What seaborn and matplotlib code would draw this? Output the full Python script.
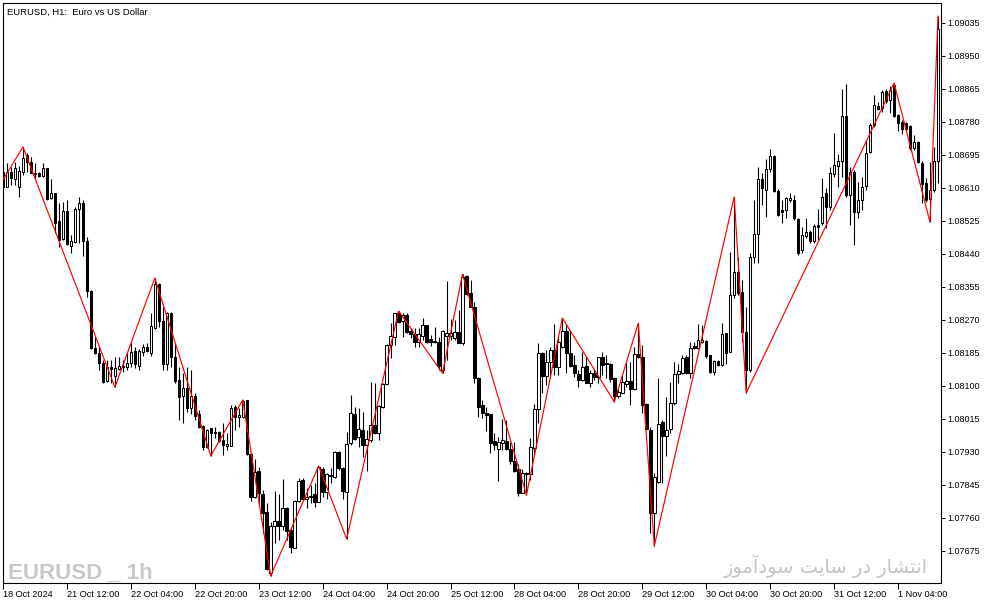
import numpy as np
import pandas as pd
import matplotlib
matplotlib.use("Agg")
import matplotlib.pyplot as plt
import seaborn as sns

# ---------------- data (EURUSD H1, 18 Oct 2024 20:00 -> 1 Nov 2024 14:00) ----------------
opens = [
    1.08651, 1.08613, 1.08651, 1.08633, 1.08613, 1.08651, 1.08695, 1.08677, 1.08649, 1.08649,
    1.08641, 1.08662, 1.08584, 1.08597, 1.08525, 1.08479, 1.08551, 1.08461, 1.08471, 1.08556,
    1.08571, 1.08473, 1.08345, 1.08198, 1.08185, 1.08159, 1.08113, 1.08149, 1.08126, 1.08144,
    1.08151, 1.08149, 1.08159, 1.08190, 1.08151, 1.08188, 1.08200, 1.08185, 1.08249, 1.08363,
    1.08267, 1.08157, 1.08288, 1.08175, 1.08115, 1.08074, 1.08095, 1.08043, 1.08074, 1.08028,
    1.07997, 1.07943, 1.07992, 1.07981, 1.07981, 1.07961, 1.07945, 1.07945, 1.08046, 1.08020,
    1.08020, 1.08064, 1.07925, 1.07814, 1.07881, 1.07822, 1.07775, 1.07618, 1.07739, 1.07752,
    1.07739, 1.07786, 1.07729, 1.07683, 1.07804, 1.07858, 1.07809, 1.07814, 1.07822, 1.07801,
    1.07886, 1.07827, 1.07868, 1.07866, 1.07930, 1.07889, 1.07827, 1.07953, 1.08028, 1.07969,
    1.07987, 1.07948, 1.07961, 1.07999, 1.07979, 1.08046, 1.08105, 1.08206, 1.08226, 1.08288,
    1.08267, 1.08283, 1.08242, 1.08234, 1.08213, 1.08229, 1.08257, 1.08221, 1.08216, 1.08213,
    1.08141, 1.08229, 1.08229, 1.08224, 1.08239, 1.08211, 1.08383, 1.08340, 1.08304, 1.08121,
    1.08051, 1.08030, 1.08028, 1.07958, 1.07938, 1.07953, 1.07958, 1.07938, 1.07907, 1.07886,
    1.07824, 1.07873, 1.07873, 1.07940, 1.08041, 1.08185, 1.08126, 1.08162, 1.08193, 1.08149,
    1.08200, 1.08242, 1.08185, 1.08154, 1.08131, 1.08115, 1.08151, 1.08108, 1.08133, 1.08123,
    1.08175, 1.08159, 1.08157, 1.08121, 1.08074, 1.08082, 1.08105, 1.08113, 1.08092, 1.08182,
    1.08175, 1.08054, 1.07987, 1.07773, 1.07853, 1.08007, 1.07971, 1.07989, 1.08056, 1.08131,
    1.08133, 1.08175, 1.08133, 1.08203, 1.08198, 1.08213, 1.08216, 1.08180, 1.08136, 1.08164,
    1.08154, 1.08237, 1.08188, 1.08334, 1.08394, 1.08342, 1.08239, 1.08141, 1.08432, 1.08492,
    1.08633, 1.08605, 1.08659, 1.08692, 1.08602, 1.08553, 1.08553, 1.08579, 1.08579, 1.08530,
    1.08450, 1.08486, 1.08497, 1.08473, 1.08515, 1.08520, 1.08597, 1.08561, 1.08646, 1.08667,
    1.08680, 1.08795, 1.08592, 1.08651, 1.08548, 1.08579, 1.08615, 1.08703, 1.08772, 1.08821,
    1.08816, 1.08860, 1.08837, 1.08875, 1.08798, 1.08780, 1.08777, 1.08770, 1.08713, 1.08728,
    1.08674, 1.08623, 1.08582, 1.08605, 1.08680,
]
highs = [
    1.08664, 1.08674, 1.08664, 1.08677, 1.08667, 1.08716, 1.08700, 1.08690, 1.08674, 1.08651,
    1.08674, 1.08662, 1.08633, 1.08597, 1.08571, 1.08574, 1.08579, 1.08489, 1.08561, 1.08587,
    1.08579, 1.08484, 1.08347, 1.08226, 1.08200, 1.08167, 1.08167, 1.08167, 1.08175, 1.08175,
    1.08167, 1.08185, 1.08211, 1.08200, 1.08195, 1.08208, 1.08211, 1.08288, 1.08378, 1.08365,
    1.08303, 1.08290, 1.08290, 1.08211, 1.08149, 1.08133, 1.08149, 1.08141, 1.08082, 1.08038,
    1.07999, 1.07989, 1.07992, 1.07994, 1.07984, 1.08005, 1.07979, 1.08051, 1.08051, 1.08043,
    1.08064, 1.08064, 1.07927, 1.07912, 1.07891, 1.07832, 1.07799, 1.07750, 1.07829, 1.07822,
    1.07860, 1.07788, 1.07734, 1.07806, 1.07863, 1.07863, 1.07837, 1.07845, 1.07850, 1.07894,
    1.07891, 1.07876, 1.07889, 1.07933, 1.07933, 1.07891, 1.07981, 1.08077, 1.08046, 1.08043,
    1.08033, 1.07987, 1.08110, 1.08108, 1.08051, 1.08108, 1.08208, 1.08262, 1.08288, 1.08293,
    1.08288, 1.08288, 1.08249, 1.08249, 1.08249, 1.08275, 1.08257, 1.08231, 1.08252, 1.08226,
    1.08244, 1.08370, 1.08273, 1.08270, 1.08296, 1.08388, 1.08386, 1.08373, 1.08316, 1.08123,
    1.08064, 1.08046, 1.08028, 1.07979, 1.07969, 1.08015, 1.08012, 1.07956, 1.07956, 1.07899,
    1.07886, 1.07878, 1.07966, 1.08054, 1.08211, 1.08188, 1.08193, 1.08200, 1.08260, 1.08224,
    1.08275, 1.08260, 1.08244, 1.08180, 1.08141, 1.08188, 1.08175, 1.08141, 1.08144, 1.08175,
    1.08188, 1.08180, 1.08159, 1.08123, 1.08092, 1.08128, 1.08159, 1.08162, 1.08200, 1.08262,
    1.08206, 1.08056, 1.07994, 1.07876, 1.08121, 1.08012, 1.08072, 1.08110, 1.08162, 1.08157,
    1.08180, 1.08180, 1.08213, 1.08213, 1.08260, 1.08257, 1.08218, 1.08180, 1.08167, 1.08167,
    1.08262, 1.08237, 1.08445, 1.08587, 1.08432, 1.08373, 1.08303, 1.08443, 1.08579, 1.08664,
    1.08649, 1.08685, 1.08710, 1.08695, 1.08607, 1.08579, 1.08587, 1.08597, 1.08592, 1.08533,
    1.08510, 1.08533, 1.08502, 1.08517, 1.08556, 1.08636, 1.08610, 1.08664, 1.08752, 1.08698,
    1.08865, 1.08878, 1.08664, 1.08656, 1.08625, 1.08638, 1.08734, 1.08777, 1.08850, 1.08831,
    1.08862, 1.08865, 1.08873, 1.08880, 1.08801, 1.08785, 1.08780, 1.08772, 1.08747, 1.08731,
    1.08680, 1.08636, 1.08677, 1.08716, 1.09053,
]
lows = [
    1.08610, 1.08613, 1.08618, 1.08618, 1.08587, 1.08643, 1.08651, 1.08649, 1.08636, 1.08638,
    1.08638, 1.08579, 1.08582, 1.08494, 1.08458, 1.08476, 1.08463, 1.08443, 1.08468, 1.08468,
    1.08435, 1.08329, 1.08195, 1.08182, 1.08141, 1.08108, 1.08110, 1.08108, 1.08097, 1.08141,
    1.08136, 1.08141, 1.08149, 1.08146, 1.08141, 1.08177, 1.08188, 1.08177, 1.08247, 1.08252,
    1.08141, 1.08141, 1.08149, 1.08108, 1.08012, 1.08005, 1.08033, 1.08028, 1.08012, 1.07992,
    1.07935, 1.07940, 1.07920, 1.07966, 1.07956, 1.07922, 1.07935, 1.07945, 1.07987, 1.07994,
    1.08018, 1.07922, 1.07804, 1.07811, 1.07793, 1.07721, 1.07626, 1.07611, 1.07696, 1.07703,
    1.07729, 1.07703, 1.07670, 1.07683, 1.07801, 1.07806, 1.07786, 1.07799, 1.07788, 1.07801,
    1.07814, 1.07809, 1.07850, 1.07863, 1.07884, 1.07809, 1.07706, 1.07948, 1.07961, 1.07943,
    1.07917, 1.07881, 1.07956, 1.07976, 1.07961, 1.08043, 1.08103, 1.08172, 1.08206, 1.08262,
    1.08226, 1.08237, 1.08224, 1.08200, 1.08200, 1.08218, 1.08211, 1.08203, 1.08211, 1.08141,
    1.08133, 1.08167, 1.08218, 1.08218, 1.08211, 1.08206, 1.08334, 1.08304, 1.08108, 1.08020,
    1.08018, 1.07984, 1.07927, 1.07935, 1.07855, 1.07935, 1.07935, 1.07899, 1.07878, 1.07817,
    1.07824, 1.07819, 1.07858, 1.07925, 1.08005, 1.08082, 1.08103, 1.08128, 1.08128, 1.08128,
    1.08198, 1.08133, 1.08149, 1.08123, 1.08097, 1.08113, 1.08108, 1.08097, 1.08115, 1.08108,
    1.08128, 1.08121, 1.08110, 1.08059, 1.08069, 1.08082, 1.08097, 1.08051, 1.08090, 1.08172,
    1.08030, 1.07987, 1.07721, 1.07688, 1.07850, 1.07850, 1.07920, 1.07979, 1.08051, 1.08108,
    1.08131, 1.08131, 1.08121, 1.08195, 1.08195, 1.08211, 1.08172, 1.08133, 1.08128, 1.08151,
    1.08151, 1.08157, 1.08188, 1.08327, 1.08334, 1.08213, 1.08082, 1.08136, 1.08417, 1.08417,
    1.08566, 1.08535, 1.08651, 1.08600, 1.08538, 1.08520, 1.08533, 1.08574, 1.08528, 1.08437,
    1.08443, 1.08481, 1.08468, 1.08468, 1.08476, 1.08515, 1.08507, 1.08553, 1.08638, 1.08613,
    1.08638, 1.08587, 1.08515, 1.08463, 1.08533, 1.08553, 1.08605, 1.08700, 1.08767, 1.08811,
    1.08806, 1.08829, 1.08803, 1.08793, 1.08757, 1.08749, 1.08757, 1.08708, 1.08708, 1.08674,
    1.08571, 1.08574, 1.08522, 1.08600, 1.08623,
]
closes = [
    1.08613, 1.08651, 1.08636, 1.08662, 1.08654, 1.08687, 1.08677, 1.08649, 1.08646, 1.08641,
    1.08662, 1.08582, 1.08597, 1.08520, 1.08476, 1.08551, 1.08466, 1.08473, 1.08556, 1.08571,
    1.08473, 1.08345, 1.08198, 1.08185, 1.08159, 1.08110, 1.08149, 1.08144, 1.08146, 1.08151,
    1.08149, 1.08159, 1.08188, 1.08157, 1.08190, 1.08200, 1.08190, 1.08254, 1.08363, 1.08267,
    1.08157, 1.08288, 1.08175, 1.08113, 1.08072, 1.08095, 1.08043, 1.08074, 1.08023, 1.07994,
    1.07943, 1.07987, 1.07979, 1.07979, 1.07958, 1.07948, 1.07951, 1.08043, 1.08020, 1.08025,
    1.08061, 1.07925, 1.07814, 1.07878, 1.07824, 1.07773, 1.07629, 1.07739, 1.07752, 1.07739,
    1.07786, 1.07726, 1.07685, 1.07804, 1.07855, 1.07809, 1.07814, 1.07817, 1.07801, 1.07891,
    1.07827, 1.07873, 1.07871, 1.07930, 1.07889, 1.07829, 1.07951, 1.08030, 1.07963, 1.07989,
    1.07948, 1.07963, 1.07999, 1.07979, 1.08048, 1.08105, 1.08206, 1.08229, 1.08288, 1.08265,
    1.08283, 1.08239, 1.08234, 1.08213, 1.08234, 1.08257, 1.08213, 1.08213, 1.08213, 1.08151,
    1.08242, 1.08237, 1.08237, 1.08239, 1.08211, 1.08381, 1.08337, 1.08304, 1.08121, 1.08046,
    1.08030, 1.08025, 1.07953, 1.07948, 1.07956, 1.07961, 1.07938, 1.07907, 1.07881, 1.07824,
    1.07876, 1.07876, 1.07943, 1.08041, 1.08185, 1.08126, 1.08162, 1.08193, 1.08149, 1.08213,
    1.08242, 1.08185, 1.08151, 1.08133, 1.08115, 1.08149, 1.08108, 1.08133, 1.08123, 1.08175,
    1.08154, 1.08157, 1.08118, 1.08074, 1.08084, 1.08110, 1.08113, 1.08092, 1.08182, 1.08175,
    1.08051, 1.07989, 1.07773, 1.07866, 1.08002, 1.07971, 1.07987, 1.08056, 1.08131, 1.08139,
    1.08172, 1.08133, 1.08198, 1.08198, 1.08218, 1.08218, 1.08177, 1.08136, 1.08164, 1.08154,
    1.08234, 1.08185, 1.08334, 1.08394, 1.08340, 1.08239, 1.08141, 1.08432, 1.08492, 1.08633,
    1.08610, 1.08659, 1.08692, 1.08602, 1.08540, 1.08548, 1.08584, 1.08584, 1.08533, 1.08443,
    1.08489, 1.08497, 1.08473, 1.08512, 1.08510, 1.08587, 1.08561, 1.08649, 1.08669, 1.08680,
    1.08795, 1.08592, 1.08651, 1.08548, 1.08579, 1.08613, 1.08700, 1.08772, 1.08824, 1.08813,
    1.08857, 1.08834, 1.08862, 1.08795, 1.08777, 1.08762, 1.08762, 1.08713, 1.08728, 1.08677,
    1.08620, 1.08579, 1.08605, 1.08680, 1.09020,
]

# ZigZag pivots (bar index, price)
zz_index = [0, 5, 28, 38, 52, 60, 67, 79, 86, 99, 110, 115, 131, 140, 153, 159, 163, 183, 186, 223, 232, 234]
zz_price = [1.08631, 1.08716, 1.08097, 1.08378, 1.07920, 1.08064, 1.07611, 1.07894, 1.07706, 1.08293,
            1.08133, 1.08388, 1.07819, 1.08275, 1.08059, 1.08262, 1.07688, 1.08587, 1.08082, 1.08880,
            1.08522, 1.09053]

# axis ticks
y_ticks = [1.07675, 1.07760, 1.07845, 1.07930, 1.08015, 1.08100, 1.08185, 1.08270, 1.08355,
           1.08440, 1.08525, 1.08610, 1.08695, 1.08780, 1.08865, 1.08950, 1.09035]
x_tick_bars = [0, 16, 32, 48, 64, 80, 96, 112, 128, 144, 160, 176, 192, 208, 224]
x_tick_labels = ["18 Oct 2024", "21 Oct 12:00", "22 Oct 04:00", "22 Oct 20:00", "23 Oct 12:00",
                 "24 Oct 04:00", "24 Oct 20:00", "25 Oct 12:00", "28 Oct 04:00", "28 Oct 20:00",
                 "29 Oct 12:00", "30 Oct 04:00", "30 Oct 20:00", "31 Oct 12:00", "1 Nov 04:00"]

title_text = "EURUSD, H1:  Euro vs US Dollar"
watermark_left = "EURUSD _ 1h"
# "انتشار در سایت سودآموز" written with joined (presentation) forms in visual order
watermark_right = ("\ufeaf\ufeee\ufee3\ufe81\ufea9\ufeee\ufeb3 "
                   "\ufe96\ufef3\ufe8e\ufeb3 "
                   "\ufead\ufea9 "
                   "\ufead\ufe8e\ufeb8\ufe98\ufee7\ufe8d")

# ---------------- build frame ----------------
df = pd.DataFrame({"open": opens, "high": highs, "low": lows, "close": closes})
df["bar"] = np.arange(len(df))
df["up"] = df["close"] >= df["open"]
df["body_lo"] = df[["open", "close"]].min(axis=1)
df["body_h"] = (df["close"] - df["open"]).abs()

sns.set_style("white")
plt.rcParams["font.family"] = ["Liberation Sans", "DejaVu Sans"]

W, H = 994, 605
fig = plt.figure(figsize=(W / 100, H / 100), dpi=100)
ax = fig.add_axes([3 / W, 1 - 583 / H, 938 / W, 580 / H])

# wicks
ax.vlines(df["bar"], df["low"], df["high"], color="black", linewidth=0.8, zorder=2)
# bodies
ax.bar(df["bar"], df["body_h"], bottom=df["body_lo"], width=0.62,
       color=np.where(df["up"], "white", "black"), edgecolor="black",
       linewidth=0.75, zorder=3)

# zigzag
zz = pd.DataFrame({"bar": zz_index, "price": zz_price})
sns.lineplot(data=zz, x="bar", y="price", ax=ax, color="#ff0000", linewidth=0.85,
             estimator=None, sort=False, zorder=4)

ax.set_xlim(0.25, 234.75)
ax.set_ylim(1.075925, 1.090865)
ax.set_xlabel("")
ax.set_ylabel("")

ax.yaxis.tick_right()
ax.set_yticks(y_ticks)
ax.set_yticklabels([f"{v:.5f}" for v in y_ticks])
ax.tick_params(axis="y", which="both", right=True, left=False, length=3.2, width=0.75,
               pad=1.5, labelsize=6.5, colors="black", direction="out")
ax.set_xticks(x_tick_bars)
ax.set_xticklabels(x_tick_labels, ha="left")
ax.tick_params(axis="x", which="both", bottom=True, length=4.5, width=0.75,
               pad=0.5, labelsize=6.6, colors="black", direction="out")
for lbl in ax.get_xticklabels():
    lbl.set_horizontalalignment("left")

for s in ax.spines.values():
    s.set_visible(True)
    s.set_color("black")
    s.set_linewidth(0.8)
ax.grid(False)

# texts
fig.text(7 / W, 1 - 12 / H, title_text, fontsize=6.8, color="black", va="center", ha="left")
fig.text(8 / W, 1 - 578 / H, watermark_left, fontsize=16, fontweight="bold",
         family=["Liberation Sans Narrow", "Liberation Sans", "DejaVu Sans"],
         color="#c8c8c8", va="baseline", ha="left", zorder=0)
fig.text(928 / W, 1 - 566 / H, watermark_right, fontsize=14,
         family=["DejaVu Sans"], color="#c4c4c4", va="center", ha="right", zorder=0)

fig.savefig("out.png", dpi=100, facecolor="white")
